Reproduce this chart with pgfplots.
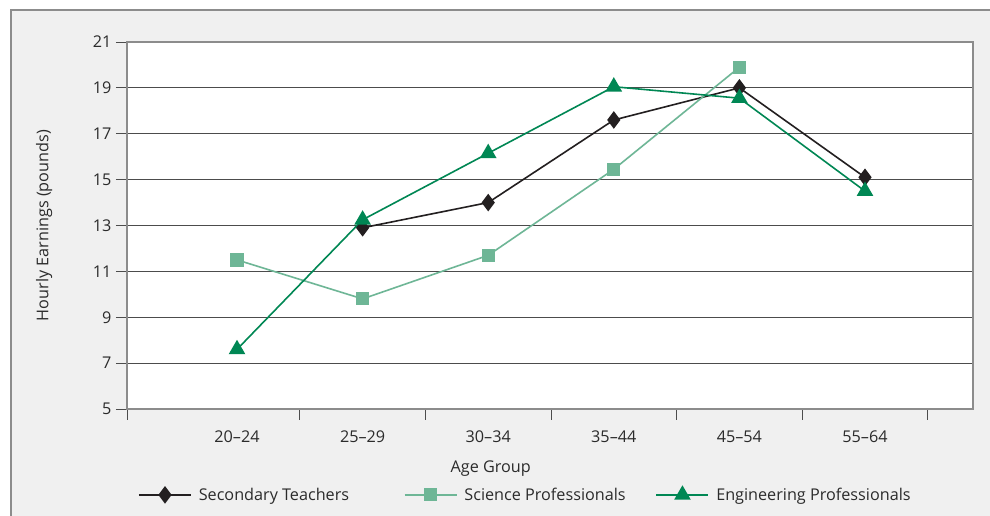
\documentclass[border=0pt]{standalone}
\usepackage{fontspec}
\setmainfont{Open Sans}
\usepackage{pgfplots}
\pgfplotsset{compat=1.18}
\definecolor{teach}{HTML}{231F20}
\definecolor{sci}{HTML}{6EB696}
\definecolor{eng}{HTML}{008754}
\definecolor{bg}{HTML}{F0F0F0}
\definecolor{txt}{HTML}{2B2B2B}
\begin{document}
\begin{tikzpicture}[x=1pt,y=1pt]
\useasboundingbox (0,0) rectangle (990,516);
\fill[bg] (11,-5) rectangle (995,506);
\draw[black!45, line width=1.2pt] (11,-5) -- (11,506) -- (995,506);
\begin{axis}[
  at={(127pt,107pt)}, anchor=south west,
  scale only axis, width=846pt, height=367pt,
  xmin=0.124, xmax=6.86, ymin=5, ymax=21,
  axis background/.style={fill=white},
  font=\fontsize{16.2}{19}\selectfont,
  /pgf/number format/assume math mode=true,
  ytick={5,7,...,21},
  xtick={1,...,6},
  xticklabels={20–24,25–29,30–34,35–44,45–54,55–64},
  minor xtick={0.124,1.5,2.5,3.5,4.5,5.5,6.5},
  major x tick style={draw=none},
  tick align=outside,
  xtick pos=bottom, ytick pos=left,
  major tick length=11pt, minor tick length=11pt,
  every tick/.style={black!70, line width=0.9pt},
  ymajorgrids,
  major y grid style={black!70, line width=0.9pt},
  x axis line style={black!70, line width=0.9pt},
  y axis line style={black!45, line width=1.4pt},
  tick label style={text=txt},
  yticklabel style={xshift=-1pt},
  xticklabel style={yshift=-7pt},
  xlabel={Age Group},
  xlabel style={at={(axis description cs:0.43,-0.163)}, anchor=center, text=txt},
  ylabel={Hourly Earnings (pounds)},
  ylabel style={at={(axis description cs:-0.098,0.5)}, anchor=center, text=txt},
  legend columns=3,
  legend style={at={(axis description cs:0.013,-0.234)}, anchor=west, draw=none, fill=none, inner sep=0pt,
    text=txt,
    /tikz/every odd column/.append style={column sep=5pt},
    /tikz/every even column/.append style={column sep=28pt}},
  legend image code/.code={\draw[mark repeat=2,mark phase=2] plot coordinates {(0pt,0pt) (26pt,0pt) (52pt,0pt)};},
]
\addplot[teach, line width=1.6pt, mark=diamond*, mark size=7.5pt, mark options={solid}]
  coordinates {(2,12.9) (3,14.0) (4,17.6) (5,19.0) (6,15.1)};
\addlegendentry{\makebox[175pt][l]{Secondary Teachers}}
\addplot[sci, line width=1.6pt, mark=square*, mark size=5.8pt]
  coordinates {(1,11.5) (2,9.8) (3,11.7) (4,15.45) (5,19.9)};
\addlegendentry{Science Professionals}
\addplot[eng, line width=1.6pt, mark=triangle*, mark size=8pt]
  coordinates {(1,7.6) (2,13.25) (3,16.15) (4,19.05) (5,18.55) (6,14.5)};
\addlegendentry{Engineering Professionals}
\end{axis}
\end{tikzpicture}
\end{document}
